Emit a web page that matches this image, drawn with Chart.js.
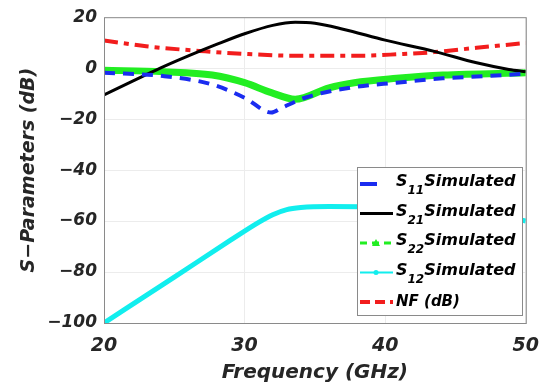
<!DOCTYPE html>
<html><head><meta charset="utf-8">
<script src="https://cdn.jsdelivr.net/npm/chart.js@4"></script>
<style>html,body{margin:0;padding:0;background:#fff;}#wrap{width:551px;height:385px;position:relative;}</style>
</head><body><div id="wrap"><canvas id="c" width="551" height="385"></canvas></div>
<script>
// ---- data ----
const xTicks = [20, 30, 40, 50];
const yTicks = [-100, -80, -60, -40, -20, 0, 20];
const seriesNames = ["S11", "S21", "S22", "S12", "NF (dB)"];

const s11Freq = [20, 24.2, 27.7, 30, 31.9, 32.6, 34.3, 37.8, 40.8, 44.1, 46.5, 50];
const s11Val  = [-1.8, -3.1, -6.4, -11.6, -17.4, -15.7, -11.6, -7.4, -5.7, -4, -3.3, -2.2];

const s21Freq = [20, 22, 24, 26, 28, 30, 32, 33.6, 35, 37, 40, 43.5, 46.5, 48.8, 50];
const s21Val  = [-10.5, -5.2, 0, 4.8, 9.3, 13.5, 16.8, 18, 17.6, 15.3, 11, 6.6, 2.1, -0.5, -1.4];

const s22Freq = [20, 24.2, 27.7, 30, 31.9, 33.6, 36, 37.8, 40.8, 44.1, 50];
const s22Val  = [-0.8, -1.4, -2.7, -5.7, -9.6, -12.2, -7.7, -5.7, -4, -2.7, -1.8];

const s12Freq = [20, 25, 29, 31, 32, 33, 34, 36, 40, 45, 48, 50];
const s12Val  = [-100, -82, -67.5, -60.5, -57.5, -55.5, -54.7, -54.3, -54.5, -55.5, -57.5, -60];

const nfFreq = [20, 23, 27.2, 30, 33.6, 38.3, 41, 43.5, 46.5, 50];
const nfVal  = [10.9, 8.6, 6.6, 5.6, 4.9, 4.9, 5.5, 6.3, 8, 9.9];

const pts = (xs, ys) => xs.map((x, i) => ({x: x, y: ys[i]}));

const TXT = '#262626';
const FONT = '"DejaVu Sans"';
const COL = {s11:'#1a2cf0', s21:'#000000', s22:'#22ee22', s12:'#11eeee', nf:'#f21d1d'};

const frame = {
  id: 'frame',
  afterDraw(chart) {
    const {ctx, chartArea: a} = chart;
    ctx.save();
    ctx.strokeStyle = '#8a8a8a'; ctx.lineWidth = 1;
    ctx.strokeRect(a.left + 0.5, a.top + 0.5, a.right - a.left, a.bottom - a.top);
    // legend box
    const lx = 357, ly = 167, lw = 165, lh = 148;
    ctx.fillStyle = '#fff';
    ctx.fillRect(lx, ly, lw, lh);
    ctx.strokeStyle = '#8a8a8a';
    ctx.strokeRect(lx + 0.5, ly + 0.5, lw, lh);
    const rows = [
      {c: COL.s11, dash: [], w: 4, x0: 360, x1: 377, sub: '11', name: seriesNames[0]},
      {c: COL.s21, dash: [], w: 3, x0: 360, x1: 393, sub: '21', name: seriesNames[1]},
      {c: COL.s22, dash: [7, 5], w: 3, x0: 360, x1: 393, sub: '22', name: seriesNames[2], mark: 'tri'},
      {c: COL.s12, dash: [], w: 2, x0: 360, x1: 393, sub: '12', name: seriesNames[3], mark: 'dot'},
      {c: COL.nf, dash: [10, 5], w: 4, x0: 360, x1: 393, name: seriesNames[4]}
    ];
    rows.forEach((r, i) => {
      const y = 184 + i * 29.5;
      ctx.strokeStyle = r.c; ctx.lineWidth = r.w; ctx.setLineDash(r.dash);
      ctx.beginPath(); ctx.moveTo(r.x0, y); ctx.lineTo(r.x1, y); ctx.stroke();
      ctx.setLineDash([]);
      if (r.mark === 'tri') {
        ctx.fillStyle = r.c; ctx.beginPath();
        ctx.moveTo(376, y - 4); ctx.lineTo(380, y + 3); ctx.lineTo(372, y + 3); ctx.closePath(); ctx.fill();
      } else if (r.mark === 'dot') {
        ctx.fillStyle = r.c; ctx.beginPath(); ctx.arc(376, y, 2.5, 0, Math.PI * 2); ctx.fill();
      }
      ctx.fillStyle = '#000';
      ctx.textBaseline = 'middle'; ctx.textAlign = 'left';
      if (r.sub) {
        ctx.font = 'italic bold 16px ' + FONT;
        ctx.fillText(r.name.charAt(0), 396, y - 2);
        const wS = ctx.measureText(r.name.charAt(0)).width;
        ctx.font = 'italic bold 12px ' + FONT;
        ctx.fillText(r.sub, 396 + wS, y + 7);
        const wSub = ctx.measureText(r.sub).width;
        ctx.font = 'italic bold 16px ' + FONT;
        ctx.fillText('Simulated', 396 + wS + wSub, y - 2);
      } else {
        ctx.font = 'italic bold 15px ' + FONT;
        ctx.fillText(r.name, 396, y);
      }
    });
    ctx.restore();
  }
};

new Chart(document.getElementById('c'), {
  type: 'line',
  data: {
    datasets: [
      {label: 'S11', data: pts(s11Freq, s11Val), borderColor: COL.s11, borderWidth: 4, borderDash: [11, 8], pointRadius: 0, cubicInterpolationMode: 'monotone'},
      {label: 'S21', data: pts(s21Freq, s21Val), borderColor: COL.s21, borderWidth: 3, pointRadius: 0, cubicInterpolationMode: 'monotone'},
      {label: 'S22', data: pts(s22Freq, s22Val), borderColor: COL.s22, borderWidth: 7, pointRadius: 0, cubicInterpolationMode: 'monotone'},
      {label: 'S12', data: pts(s12Freq, s12Val), borderColor: COL.s12, borderWidth: 5, pointRadius: 0, cubicInterpolationMode: 'monotone'},
      {label: 'NF', data: pts(nfFreq, nfVal), borderColor: COL.nf, borderWidth: 4, borderDash: [14, 6, 5, 6], pointRadius: 0, cubicInterpolationMode: 'monotone'}
    ]
  },
  options: {
    responsive: false, animation: false, devicePixelRatio: 1,
    layout: {padding: {left: 0, right: 21, top: 16, bottom: 0}},
    plugins: {legend: {display: false}, tooltip: {enabled: false}},
    scales: {
      x: {
        type: 'linear', min: 20, max: 50,
        afterBuildTicks: s => { s.ticks = xTicks.map(v => ({value: v})); },
        afterFit: s => { s.height = 62; },
        grid: {color: '#ececec', drawTicks: false, tickLength: 0},
        border: {display: false},
        ticks: {color: TXT, padding: 12, maxRotation: 0, font: {family: FONT, size: 19, weight: 'bold', style: 'italic'}},
        title: {display: true, text: 'Frequency (GHz)', color: TXT, padding: {top: 0, bottom: 0}, font: {family: FONT, size: 20, weight: 'bold', style: 'italic'}}
      },
      y: {
        min: -100, max: 20,
        afterBuildTicks: s => { s.ticks = yTicks.map(v => ({value: v})); },
        afterFit: s => { s.width = 104; },
        grid: {color: '#ececec', drawTicks: false, tickLength: 0},
        border: {display: false},
        ticks: {color: TXT, padding: 7, font: {family: FONT, size: 17, weight: 'bold', style: 'italic'},
          callback: v => String(v).replace('-', '\u2212')},
        title: {display: true, text: 'S\u2212Parameters (dB)', color: TXT, padding: {top: 18, bottom: 0}, font: {family: FONT, size: 19, weight: 'bold', style: 'italic'}}
      }
    }
  },
  plugins: [frame]
});
</script></body></html>
